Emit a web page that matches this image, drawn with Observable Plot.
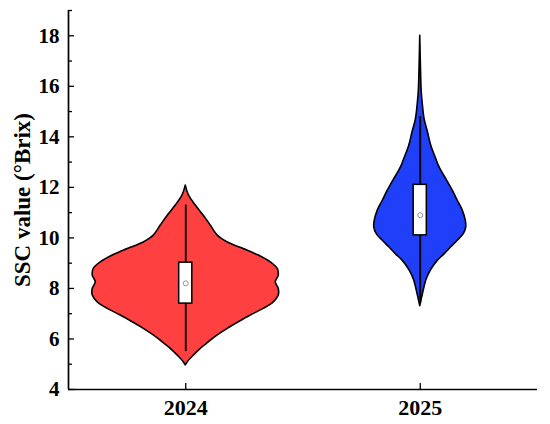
<!DOCTYPE html>
<html>
<head>
<meta charset="utf-8">
<script src="https://cdn.jsdelivr.net/npm/d3@7"></script>
<script src="https://cdn.jsdelivr.net/npm/@observablehq/plot@0.6"></script>
<style>
  html, body { margin: 0; padding: 0; background: #fff; }
</style>
</head>
<body>
<div id="chart"></div>
<script>
// ---- data ----
const years = ["2024", "2025"];
const colors = ["#FF4040", "#1F3FF8"];

// violin outline: SSC value vs. density (half-width, arbitrary units)
const ssc2024 = [12.07, 11.67, 11.28, 10.88, 10.49, 10.09, 9.82, 9.56, 9.30, 9.03, 8.77, 8.51, 8.24, 7.98, 7.72, 7.45, 7.19, 6.93, 6.66, 6.40, 6.14, 5.87, 5.61, 5.34, 5.08, 4.95];
const dens2024 = [0, 3.3, 10, 18, 25, 32, 42, 58, 73, 85, 92, 93, 90, 93, 93, 88, 78, 65, 53, 42, 32, 23, 15, 8, 2, 0];
const ssc2025 = [18.0, 17.07, 15.76, 15.23, 14.70, 14.18, 13.65, 13.12, 12.86, 12.66, 12.26, 11.87, 11.47, 11.08, 10.68, 10.42, 10.15, 9.89, 9.63, 9.36, 9.10, 8.84, 8.57, 8.31, 8.05, 7.78, 7.52, 7.30];
const dens2025 = [0, 0.5, 1.5, 2.7, 4.3, 7.7, 11, 16, 18.5, 21, 27, 32.5, 37.5, 42.5, 45.5, 46, 43.5, 37.5, 31, 24.5, 17.7, 12.7, 8.7, 6, 4.3, 2.7, 1.2, 0];

// box statistics
const q1 = [7.4, 10.1];
const q3 = [9.02, 12.1];
const whiskerLow = [5.5, 7.4];
const whiskerHigh = [11.3, 14.8];
const means = [8.2, 10.9];

// axis ticks
const yMajor = [4, 6, 8, 10, 12, 14, 16, 18];
const yMinor = [5, 7, 9, 11, 13, 15, 17, 19];
const yLabel = "SSC value (°Brix)";

// ---- layout ----
const W = 550, H = 424;
const mL = 68, mR = 13, mT = 10, mB = 35;
const frameW = W - mL - mR, frameH = H - mT - mB;
const densScale = 1 / 234.5;   // density units -> x units
const boxHalf = 0.028;

const sscs = [ssc2024, ssc2025];
const dens = [dens2024, dens2025];
const idx = years.map((_, i) => i);
const center = i => i + 0.5;

const violinMarks = idx.map(i => {
  const rows = sscs[i].map((v, j) => ({v, d: dens[i][j]}));
  return Plot.areaX(rows, {
    y: "v",
    x1: d => center(i) - d.d * densScale,
    x2: d => center(i) + d.d * densScale,
    curve: "catmull-rom",
    fill: colors[i],
    stroke: "black",
    strokeWidth: 1.6
  });
});

const chart = Plot.plot({
  width: W,
  height: H,
  marginLeft: mL,
  marginRight: mR,
  marginTop: mT,
  marginBottom: mB,
  style: {fontFamily: "'Liberation Serif', 'Times New Roman', serif", fontWeight: "bold", background: "white", color: "black"},
  x: {domain: [0, years.length], axis: null},
  y: {domain: [4, 19], axis: null},
  marks: [
    ...violinMarks,
    Plot.ruleX(idx, {x: center, y1: i => whiskerLow[i], y2: i => whiskerHigh[i], stroke: "black", strokeWidth: 1.8}),
    Plot.rect(idx, {x1: i => center(i) - boxHalf, x2: i => center(i) + boxHalf, y1: i => q1[i], y2: i => q3[i], fill: "white", stroke: "black", strokeWidth: 1.5}),
    Plot.dot(idx, {x: center, y: i => means[i], r: 2.5, stroke: "#888", fill: "white", strokeWidth: 0.9}),
    // axis lines
    Plot.ruleX([0], {stroke: "black", strokeWidth: 1.7}),
    Plot.ruleY([4], {stroke: "black", strokeWidth: 1.7}),
    // inward ticks
    Plot.tickY(yMajor, {y: d => d, insetRight: frameW - 6, stroke: "black", strokeWidth: 1.3}),
    Plot.tickY(yMinor, {y: d => d, insetRight: frameW - 4, stroke: "black", strokeWidth: 1.3}),
    Plot.tickX(idx, {x: center, insetTop: frameH - 6, stroke: "black", strokeWidth: 1.3}),
    // tick labels
    Plot.axisY({ticks: yMajor, tickSize: 0, tickPadding: 9, fontSize: 21, label: null}),
    Plot.axisX({ticks: idx.map(center), tickFormat: d => years[Math.floor(d)], tickSize: 0, tickPadding: 10, fontSize: 22, label: null}),
    // y label
    Plot.text([yLabel], {frameAnchor: "left", text: d => d, rotate: -90, dx: -46, fontSize: 23, textAnchor: "middle", lineAnchor: "middle"})
  ]
});
document.getElementById("chart").appendChild(chart);
</script>
</body>
</html>
